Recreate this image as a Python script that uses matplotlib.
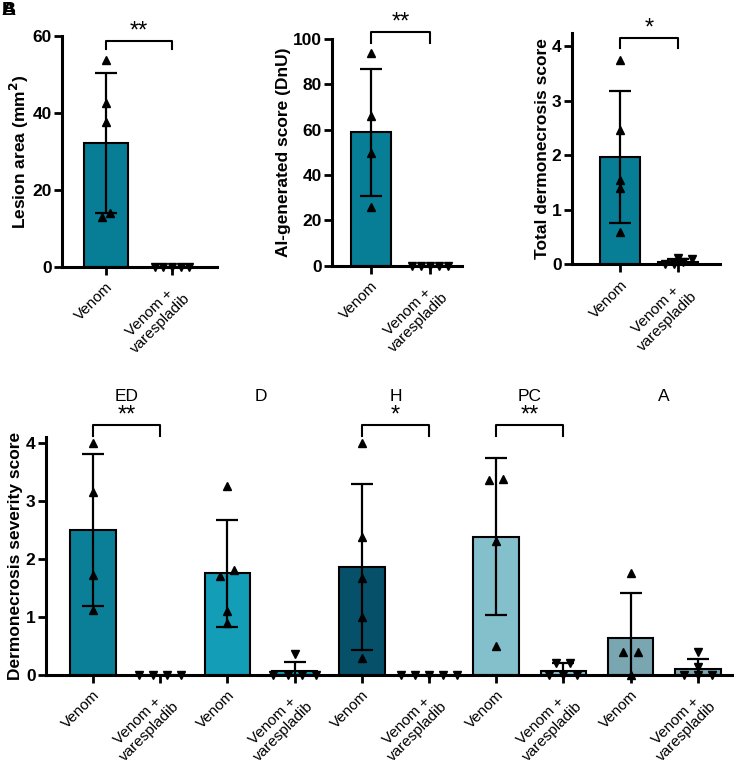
import matplotlib
matplotlib.use("Agg")
import matplotlib.pyplot as plt
import numpy as np

plt.rcParams['font.family'] = ['Liberation Sans', 'DejaVu Sans']

# x categories
groups = ["Venom", "Venom +\nvarespladib"]

# top row: lesion area, AI score, total dermonecrosis
lesion_mean = [32.3, 0.0]
lesion_sd = [18.2, 0.0]
lesion_pts = [[53.8, 42.5, 37.7, 13.1, 14.0], [0, 0, 0, 0, 0]]

ai_mean = [58.8, 0.0]
ai_sd = [28.2, 0.0]
ai_pts = [[93.8, 66.0, 49.6, 26.0], [0, 0, 0, 0, 0]]

total_mean = [1.96, 0.05]
total_sd = [1.21, 0.05]
total_pts = [[3.74, 2.47, 1.54, 1.39, 0.6], [0.1, 0.0, 0.0, 0.12, 0.05]]

# bottom row: severity score per component
components = ["ED", "D", "H", "PC", "A"]
sev_mean = [[2.50, 0.0], [1.75, 0.07], [1.86, 0.0], [2.38, 0.07], [0.64, 0.10]]
sev_sd = [[1.31, 0.0], [0.92, 0.15], [1.43, 0.0], [1.35, 0.13], [0.77, 0.17]]
sev_pts = [
    [[4.0, 3.15, 1.72, 1.12], [0, 0, 0, 0]],
    [[3.25, 1.8, 1.7, 1.1, 0.9], [0.35, 0, 0, 0, 0]],
    [[4.0, 2.38, 1.67, 1.0, 0.28], [0, 0, 0, 0, 0]],
    [[3.35, 3.38, 2.3, 0.5], [0.2, 0.2, 0, 0, 0]],
    [[1.75, 0.4, 0.4, 0.0], [0.4, 0.13, 0, 0, 0]],
]
sev_stars = ["**", "", "*", "**", ""]

top_color = "#087d96"
comp_colors = ["#0a7f97", "#139db6", "#06506a", "#84c0cc", "#7aa6b1"]


def swarm(vals, step, thr):
    vals = np.asarray(vals, dtype=float)
    order = np.argsort(vals)
    offs = np.zeros(len(vals))
    clusters = []
    for i in order:
        if clusters and vals[i] - vals[clusters[-1][0]] <= thr:
            clusters[-1].append(i)
        else:
            clusters.append([i])
    for c in clusters:
        n = len(c)
        for k, idx in enumerate(c):
            offs[idx] = (k - (n - 1) / 2) * step
    return offs


def style_axes(ax):
    for s in ["top", "right"]:
        ax.spines[s].set_visible(False)
    for s in ["left", "bottom"]:
        ax.spines[s].set_linewidth(2.2)
    ax.tick_params(axis="both", width=2, length=6)
    ax.tick_params(axis="y", labelsize=12.5, pad=1.5)
    for lab in ax.get_yticklabels():
        lab.set_fontweight("bold")


def draw_group(ax, x, mean, sd, pts, color, marker, step, thr):
    ax.bar(x, mean, width=0.68, color=color, edgecolor="black",
           linewidth=1.5, zorder=1)
    if sd > 0:
        ax.errorbar(x, mean, yerr=sd, fmt="none", ecolor="black",
                    elinewidth=1.6, capsize=8, capthick=1.6, zorder=2)
    offs = swarm(pts, step, thr)
    ax.plot(x + offs, pts, linestyle="none", marker=marker, color="black",
            markersize=6, zorder=3, clip_on=False)


def bracket(ax, x0, x1, y_leg, y_top, label):
    ax.plot([x0, x0, x1, x1], [y_leg, y_top, y_top, y_leg], color="black",
            linewidth=1.5, clip_on=False)
    ax.annotate(label, xy=((x0 + x1) / 2, y_top), xytext=(0, 2.5),
                textcoords="offset points", ha="center", va="baseline",
                fontsize=17, annotation_clip=False)


def xlabels(ax, xs, labels):
    ax.set_xticks(xs)
    ax.set_xticklabels(labels, rotation=45, ha="right", rotation_mode="anchor",
                       multialignment="center", fontsize=11)


fig = plt.figure(figsize=(7.34, 7.67), dpi=100)

top_panels = [
    ([0.0845, 0.652, 0.211, 0.301], lesion_mean, lesion_sd, lesion_pts,
     (0, 60), [0, 20, 40, 60], "Lesion area (mm$^\\mathbf{2}$)", "**",
     (-0.667, 1.68), 0.13, (58.7, 56.6)),
    ([0.4523, 0.6535, 0.177, 0.2956], ai_mean, ai_sd, ai_pts,
     (0, 100), [0, 20, 40, 60, 80, 100], "AI-generated score (DnU)", "**",
     (-0.66, 1.54), 0.15, (103.2, 98.2)),
    ([0.7793, 0.6554, 0.2016, 0.3016], total_mean, total_sd, total_pts,
     (0, 4.24), [0, 1, 2, 3, 4], "Total dermonecrosis score", "*",
     (-0.83, 1.72), 0.155, (4.15, 3.96)),
]

for rect, means, sds, pts, ylim, yticks, ylabel, star, xlim, step, br in top_panels:
    ax = fig.add_axes(rect)
    for i in range(2):
        draw_group(ax, i, means[i], sds[i], pts[i], top_color,
                   "^" if i == 0 else "v", step, 0.025 * ylim[1])
    ax.set_ylim(*ylim)
    ax.set_xlim(*xlim)
    ax.set_yticks(yticks)
    ax.set_ylabel(ylabel, fontsize=12.5, fontweight="bold", labelpad=1)
    style_axes(ax)
    xlabels(ax, [0, 1], groups)
    bracket(ax, 0, 1, br[1], br[0], star)

# bottom panel
axb = fig.add_axes([0.0627, 0.1203, 0.9373, 0.31])
xs = []
for j in range(len(components)):
    for i in range(2):
        x = 2 * j + i
        xs.append(x)
        draw_group(axb, x, sev_mean[j][i], sev_sd[j][i], sev_pts[j][i],
                   comp_colors[j], "^" if i == 0 else "v", 0.21, 0.12)
    axb.text(2 * j + 0.5, 4.8, components[j], ha="center", va="center",
             fontsize=12.5, clip_on=False)
    if sev_stars[j]:
        bracket(axb, 2 * j, 2 * j + 1, 4.12, 4.31, sev_stars[j])
axb.set_ylim(0, 4.1)
axb.set_xlim(-0.70, 9.54)
axb.set_yticks([0, 1, 2, 3, 4])
axb.set_ylabel("Dermonecrosis severity score", fontsize=12.5,
               fontweight="bold", labelpad=2)
style_axes(axb)
xlabels(axb, xs, groups * len(components))

# overlapping panel letters in the corner
fig.text(0.002, 0.998, "A", fontsize=14, fontweight="bold", ha="left", va="top")
fig.text(0.002, 0.998, "B", fontsize=14, fontweight="bold", ha="left", va="top")

fig.savefig("out.png", dpi=100)
